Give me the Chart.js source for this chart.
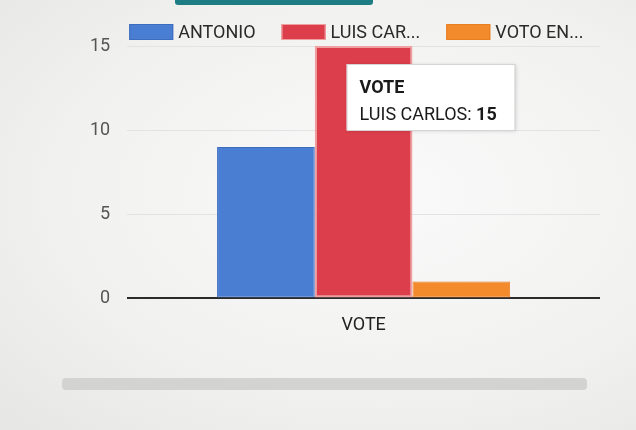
<!DOCTYPE html>
<html>
<head>
<meta charset="utf-8">
<script src="https://cdn.jsdelivr.net/npm/chart.js@4/dist/chart.umd.min.js"></script>
<style>
  html, body { margin: 0; padding: 0; }
  body {
    width: 636px; height: 430px; overflow: hidden; position: relative;
    background: radial-gradient(ellipse at 60% 45%, #fafafa 0%, #f1f1f0 60%, #e6e6e5 100%);
    font-family: Roboto, "Noto Sans", sans-serif;
  }
  #wrap { position: absolute; left: 0; top: 0; width: 636px; height: 430px; }
  .tab { position: absolute; left: 175px; top: 0; width: 198px; height: 5px; background: #1e7d84; border-radius: 0 0 3px 3px; }
  .bar { position: absolute; left: 62px; top: 378px; width: 525px; height: 12px; background: #d3d3d2; border-radius: 4px; }
</style>
</head>
<body>
<div class="tab"></div>
<div class="bar"></div>
<div id="wrap"><canvas id="grafico"></canvas></div>
<script>
// dados do gráfico
const categorias = ['VOTE'];
const candidatos = ['ANTONIO', 'LUIS CARLOS', 'VOTO EN BLANCO'];
const votos = [9, 15, 1];
const cores = ['#4a7ed2', '#dc3e4b', '#f38a2b'];
const bordas = ['#3d6cbd', '#f0a0a0', '#e87d22'];
const ticksY = [0, 5, 10, 15];
const destaque = 1; // série com tooltip aberto

const fonte = '18px Roboto';
const corta = (t, n) => t.length > n ? t.slice(0, n).trimEnd() + '...' : t;

// legenda desenhada à mão (a do Chart.js não deixa acertar o espaçamento)
const legenda = {
  id: 'legenda',
  afterDraw(chart) {
    const ctx = chart.ctx;
    let x = chart.chartArea.left + 2;
    const y = 32;
    ctx.save();
    ctx.font = fonte;
    ctx.textBaseline = 'middle';
    chart.data.datasets.forEach((ds, i) => {
      ctx.fillStyle = ds.backgroundColor;
      ctx.fillRect(x, y - 8, 44, 16);
      ctx.strokeStyle = ds.borderColor;
      ctx.lineWidth = 1;
      ctx.strokeRect(x + 0.5, y - 7.5, 43, 15);
      const txt = corta(ds.label, 8);
      ctx.fillStyle = '#2a2a2a';
      ctx.fillText(txt, x + 49, y + 1);
      x += 49 + ctx.measureText(txt).width + 26;
    });
    ctx.restore();
  }
};

// desenha o tooltip fixo, estilo Google Charts
const tooltipFixo = {
  id: 'tooltipFixo',
  afterDraw(chart) {
    const el = chart.getDatasetMeta(destaque).data[0];
    if (!el) return;
    const ctx = chart.ctx;
    const x = el.x - 17, y = el.y + 18, w = 168, h = 66;
    ctx.save();
    ctx.shadowColor = 'rgba(0,0,0,0.15)';
    ctx.shadowBlur = 4;
    ctx.shadowOffsetX = 1;
    ctx.shadowOffsetY = 1;
    ctx.fillStyle = '#ffffff';
    ctx.fillRect(x, y, w, h);
    ctx.shadowColor = 'transparent';
    ctx.strokeStyle = '#d4d4d4';
    ctx.lineWidth = 1;
    ctx.strokeRect(x + 0.5, y + 0.5, w, h);
    ctx.fillStyle = '#1a1a1a';
    ctx.textBaseline = 'alphabetic';
    ctx.font = 'bold ' + fonte;
    ctx.fillText(categorias[0], x + 13, y + 29);
    ctx.font = fonte;
    const nome = candidatos[destaque] + ': ';
    ctx.fillText(nome, x + 13, y + 56);
    const wn = ctx.measureText(nome).width;
    ctx.font = 'bold ' + fonte;
    ctx.fillText(String(votos[destaque]), x + 13 + wn, y + 56);
    ctx.restore();
  }
};

new Chart(document.getElementById('grafico'), {
  type: 'bar',
  data: {
    labels: categorias,
    datasets: candidatos.map((nome, i) => ({
      label: nome,
      data: [votos[i]],
      backgroundColor: cores[i],
      borderColor: bordas[i],
      borderWidth: i === destaque ? 2 : 1,
      borderSkipped: false
    }))
  },
  options: {
    responsive: true,
    maintainAspectRatio: false,
    animation: false,
    layout: { padding: { left: 73, right: 36, top: 46, bottom: 86 } },
    datasets: { bar: { barPercentage: 1, categoryPercentage: 0.62 } },
    plugins: {
      tooltip: { enabled: false },
      legend: { display: false }
    },
    scales: {
      x: {
        grid: { display: false },
        border: { display: false },
        ticks: { color: '#222', font: { size: 18, family: 'Roboto' }, padding: 8 }
      },
      y: {
        min: 0,
        max: 15,
        afterBuildTicks(axis) { axis.ticks = ticksY.map(v => ({ value: v })); },
        border: { display: false },
        grid: {
          color: c => c.tick.value === 0 ? '#2b2b2b' : '#e3e3e3',
          lineWidth: c => c.tick.value === 0 ? 2 : 1,
          drawTicks: false
        },
        ticks: { color: '#555', font: { size: 18, family: 'Roboto' }, padding: 17 }
      }
    }
  },
  plugins: [legenda, tooltipFixo]
});
</script>
</body>
</html>
